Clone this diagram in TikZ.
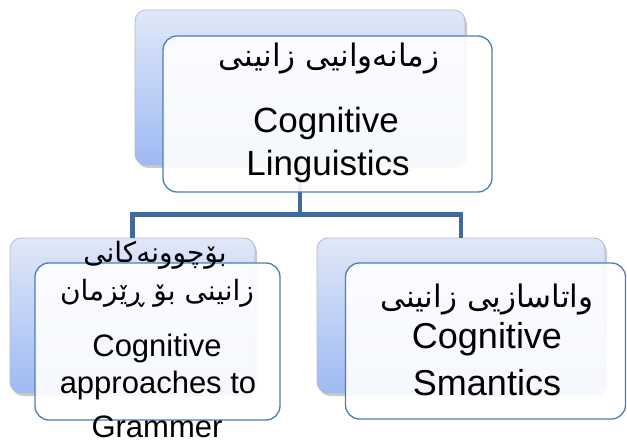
\documentclass[tikz,border=0pt]{standalone}
\usepackage{fontspec}
\setmainfont{Liberation Sans}
\newfontfamily\arabicfont[Script=Arabic]{DejaVu Sans}
\TeXXeTstate=1
\usetikzlibrary{shadows}
\definecolor{connc}{HTML}{41699E}
\definecolor{backtop}{HTML}{E0E8F8}
\definecolor{backbot}{HTML}{9EBAF3}
\definecolor{backline}{HTML}{B3BBCA}
\definecolor{frontline}{HTML}{4A7EBB}
\tikzset{
  backbox/.style={rectangle, rounded corners=11pt, draw=backline, line width=0.8pt,
    top color=backtop, bottom color=backbot,
    drop shadow={shadow xshift=2pt, shadow yshift=-3pt, opacity=0.35, fill=black!60},
    inner sep=0pt},
  frontbox/.style={rectangle, rounded corners=14pt, draw=frontline, line width=1.3pt,
    fill=white, fill opacity=0.9, draw opacity=1, inner sep=0pt},
  conn/.style={draw=connc, line width=4.5pt},
  txt/.style={anchor=base, inner sep=0pt, text=black},
}
\begin{document}
\begin{tikzpicture}[x=1pt,y=-1pt]
\useasboundingbox (0,0) rectangle (627,441);
% back boxes
\node[backbox, minimum width=330pt, minimum height=155pt] (tb) at (300,87.5) {};
\node[backbox, minimum width=245pt, minimum height=155pt] (lb) at (132.5,315.5) {};
\node[backbox, minimum width=288pt, minimum height=155pt] (rb) at (461,315.5) {};
% connectors
\coordinate (j) at (300,214.5);
\draw[conn] (tb.south) -- (j);
\draw[conn] (j) -| (lb.north);
\draw[conn] (j) -| (rb.north);
% front boxes
\node[frontbox, minimum width=329pt, minimum height=156pt] (tf) at (327.5,114) {};
\node[frontbox, minimum width=245pt, minimum height=157pt] (lf) at (157.5,341.5) {};
\node[frontbox, minimum width=280pt, minimum height=156pt] (rf) at (485.5,341) {};
% texts top
\node[txt] (t1) at (329,67) {\arabicfont\fontsize{31pt}{31pt}\selectfont\beginR زمانەوانیی زانینی\endR};
\node[txt] (t2) at (326,133) {\fontsize{35pt}{43pt}\selectfont Cognitive};
\node[txt] (t3) at (328,176) {\fontsize{35pt}{43pt}\selectfont Linguistics};
% texts left
\node[txt] (l1) at (155,262) {\arabicfont\fontsize{28pt}{28pt}\selectfont\beginR بۆچوونەکانی\endR};
\node[txt] (l2) at (157,300) {\arabicfont\fontsize{28pt}{28pt}\selectfont\beginR زانینی بۆ ڕێزمان\endR};
\node[txt] (l3) at (157,356) {\fontsize{31pt}{40pt}\selectfont Cognitive};
\node[txt] (l4) at (158,393) {\fontsize{31pt}{40pt}\selectfont approaches to};
\node[txt] (l5) at (157,437) {\fontsize{31pt}{40pt}\selectfont Grammer};
% texts right
\node[txt] (r1) at (487,307) {\arabicfont\fontsize{31pt}{31pt}\selectfont\beginR واتاسازیی زانینی\endR};
\node[txt] (r2) at (487,348) {\fontsize{36pt}{43pt}\selectfont Cognitive};
\node[txt] (r3) at (487,395) {\fontsize{36pt}{43pt}\selectfont Smantics};
\end{tikzpicture}
\end{document}
